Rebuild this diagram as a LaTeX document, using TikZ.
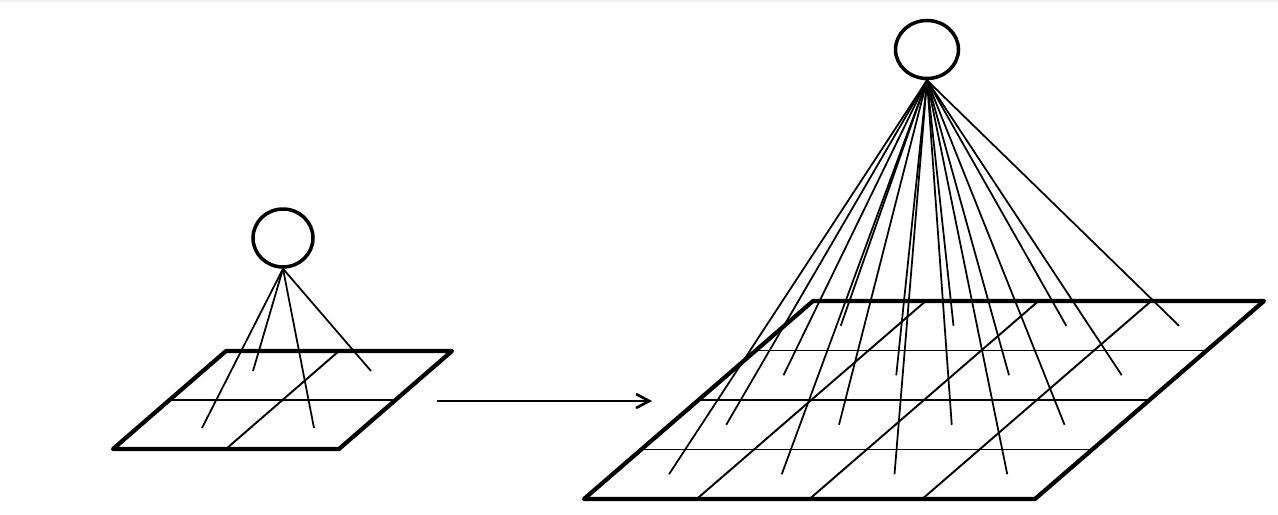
\documentclass[tikz,border=0pt]{standalone}
\usetikzlibrary{shapes.geometric,arrows.meta}
\begin{document}
\begin{tikzpicture}[x=0.02cm,y=-0.02cm,
  thinline/.style={line width=1.1pt,black},
  frame/.style={line width=2.4pt,black,line join=round},
  unit/.style={ellipse,draw,line width=2pt,inner sep=0pt,minimum width=1.2cm,minimum height=1.16cm},
  link/.style={line width=1pt,black}]
\useasboundingbox (0,0) rectangle (1278,514);
\fill[black!6] (0,0) rectangle (1278,1.6);
% small grid
\coordinate (sBL) at (113,449);
\coordinate (sBR) at (339,449);
\coordinate (sTR) at (452,351);
\coordinate (sTL) at (226,351);
\draw[thinline] (169.5,400) -- (395.5,400);
\draw[thinline] (226,449) -- (339,351);
\draw[frame] (sBL) -- (sBR) -- (sTR) -- (sTL) -- cycle;
\node[unit] (c1) at (283,238) {};
\coordinate (s1) at (253,371);
\coordinate (s2) at (371,371);
\coordinate (s3) at (202,428);
\coordinate (s4) at (314,428);
\foreach \k in {1,...,4} \draw[link] (c1.south) -- (s\k);
% arrow
\coordinate (aS) at (437,401);
\coordinate (aE) at (652,401);
\draw[thinline,-{Straight Barb[length=7.5pt,width=8pt,line width=1.5pt]}] (aS) -- (aE);
% big grid
\coordinate (bBL) at (584,499);
\coordinate (bBR) at (1035,499);
\coordinate (bTR) at (1264,301);
\coordinate (bTL) at (813,301);
\foreach \j in {1,2,3} {
  \draw[thinline] ({584+57.25*\j},{499-49.5*\j}) -- ({1035+57.25*\j},{499-49.5*\j});
}
\foreach \i in {1,2,3} {
  \draw[thinline] ({584+112.75*\i},499) -- ({813+112.75*\i},301);
}
\draw[frame] (bBL) -- (bBR) -- (bTR) -- (bTL) -- cycle;
\node[unit,minimum width=1.26cm,minimum height=1.16cm] (c2) at (927,49.5) {};
\foreach \i in {0,...,3} {
  \foreach \j in {0,...,3} {
    \coordinate (b\i\j) at ({584+112.75*(\i+0.5)+57.25*(\j+0.5)},{499-49.5*(\j+0.5)});
    \draw[link] (c2.south) -- (b\i\j);
  }
}
\end{tikzpicture}
\end{document}
